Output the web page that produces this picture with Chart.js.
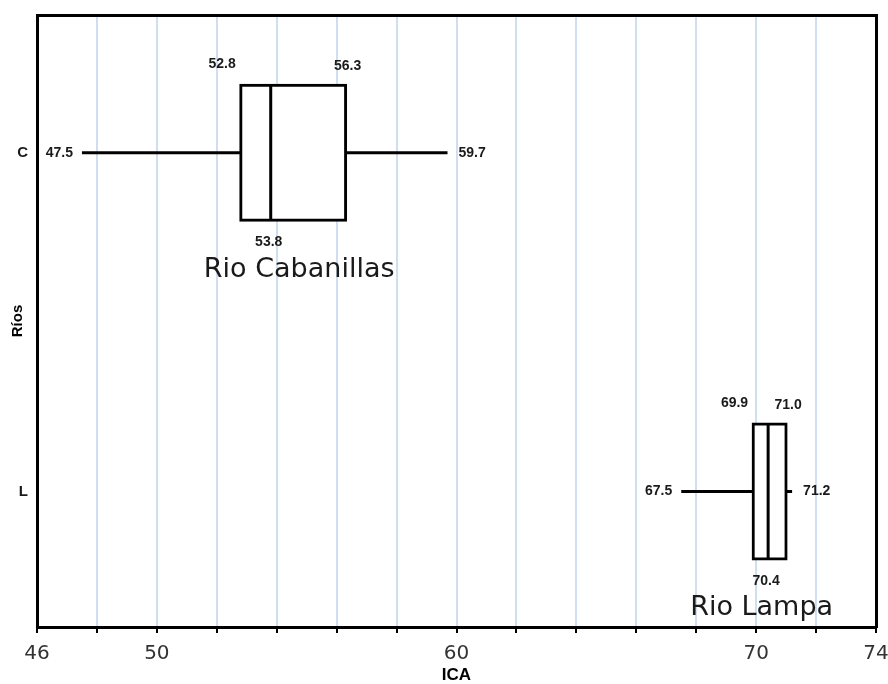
<!DOCTYPE html>
<html><head><meta charset="utf-8">
<script src="https://cdn.jsdelivr.net/npm/chart.js@4.4.1/dist/chart.umd.min.js"></script>
<style>html,body{margin:0;padding:0;background:#fff}#wrap{width:888px;height:684px;position:relative}</style>
</head><body><div id="wrap"><canvas id="c"></canvas></div>
<script>
// ---- data ----
const categories = ['C', 'L'];
const riverNames = ['Rio Cabanillas', 'Rio Lampa'];
const minValues = [47.5, 67.5];
const q1Values = [52.8, 69.9];
const medianValues = [53.8, 70.4];
const q3Values = [56.3, 71.0];
const maxValues = [59.7, 71.2];
const xTickLabels = [46, 50, 60, 70, 74];
const xAxisTitle = 'ICA';
const yAxisTitle = 'Ríos';

// ---- style constants ----
const BOX_HALF = 0.2;          // half box height in category units
const BOX_PX = 135;            // bar thickness in pixels
const NAME_SHIFT = [6, -8];
const LINE_W = 3;

const boxData = categories.map((c, i) => ({ x: [q1Values[i], q3Values[i]], y: i + 1 }));
const segDatasets = [];
categories.forEach((c, i) => {
  const yv = i + 1;
  const segs = [
    [{ x: minValues[i], y: yv }, { x: q1Values[i], y: yv }],
    [{ x: q3Values[i], y: yv }, { x: maxValues[i], y: yv }],
    [{ x: medianValues[i], y: yv - BOX_HALF }, { x: medianValues[i], y: yv + BOX_HALF }]
  ];
  segs.forEach(s => segDatasets.push({
    type: 'line', data: s, xAxisID: 'x', yAxisID: 'y',
    borderColor: '#000', borderWidth: LINE_W, pointRadius: 0, fill: false,
    borderCapStyle: 'butt', tension: 0, order: 0
  }));
});

const labelPlugin = {
  id: 'boxLabels',
  afterDatasetsDraw(chart) {
    const { ctx, scales: { x, y } } = chart;
    ctx.save();
    ctx.textBaseline = 'middle';
    categories.forEach((c, i) => {
      const yc = y.getPixelForValue(i + 1);
      const top = y.getPixelForValue(i + 1 - BOX_HALF);
      const bot = y.getPixelForValue(i + 1 + BOX_HALF);
      const pMin = x.getPixelForValue(minValues[i]);
      const pMax = x.getPixelForValue(maxValues[i]);
      const pQ1 = x.getPixelForValue(q1Values[i]);
      const pQ3 = x.getPixelForValue(q3Values[i]);
      const pMed = x.getPixelForValue(medianValues[i]);
      ctx.fillStyle = '#1a1a1a';
      ctx.font = 'bold 14px "Liberation Sans", Arial, sans-serif';
      ctx.textAlign = 'right';
      ctx.fillText(minValues[i].toFixed(1), pMin - 9, yc);
      ctx.fillText(q1Values[i].toFixed(1), pQ1 - 5, top - 21);
      ctx.textAlign = 'left';
      ctx.fillText(maxValues[i].toFixed(1), pMax + 11, yc);
      ctx.textAlign = 'center';
      ctx.fillText(q3Values[i].toFixed(1), pQ3 + 2, top - 19);
      ctx.fillText(medianValues[i].toFixed(1), pMed - 2, bot + 22);
      ctx.font = '27px "DejaVu Sans", Verdana, sans-serif';
      ctx.fillText(riverNames[i], (pQ1 + pQ3) / 2 + NAME_SHIFT[i], bot + 49);
    });
    ctx.restore();
  }
};

new Chart(document.getElementById('c'), {
  type: 'bar',
  data: {
    datasets: [
      {
        type: 'bar', indexAxis: 'y', data: boxData, xAxisID: 'x', yAxisID: 'y',
        backgroundColor: '#fff', borderColor: '#000', borderWidth: LINE_W,
        borderSkipped: false, barThickness: BOX_PX, inflateAmount: 1.5, order: 1
      },
      ...segDatasets
    ]
  },
  options: {
    responsive: true, maintainAspectRatio: false, animation: false,
    layout: { padding: { top: 15, right: 12, left: 0, bottom: 0 } },
    plugins: { legend: { display: false }, tooltip: { enabled: false } },
    scales: {
      x: {
        type: 'linear', position: 'bottom', min: 46, max: 74, offset: false, beginAtZero: false,
        afterFit: s => { s.height = 57; s.paddingLeft = 0; s.paddingRight = 0; },
        ticks: {
          stepSize: 2, autoSkip: false, maxRotation: 0, padding: 9, color: '#333',
          font: { family: '"DejaVu Sans", Verdana, sans-serif', size: 20 },
          callback: v => xTickLabels.includes(v) ? String(v) : ''
        },
        grid: { offset: false, color: 'rgba(170,196,226,0.55)', lineWidth: 2, tickColor: '#000', tickLength: 6, tickWidth: 2 },
        border: { color: '#000', width: 3 },
        title: { display: true, text: xAxisTitle, color: '#000', padding: { top: 0, bottom: 0 },
          font: { family: '"Liberation Sans", Arial, sans-serif', size: 17, weight: 'bold', lineHeight: 1 } }
      },
      y: {
        type: 'linear', position: 'left', reverse: true, min: 0.593, max: 2.4, offset: false, beginAtZero: false,
        afterFit: s => { s.width = 37; s.paddingTop = 0; s.paddingBottom = 0; },
        afterBuildTicks: s => { s.ticks = categories.map((c, i) => ({ value: i + 1 })); },
        ticks: {
          autoSkip: false, padding: 9, color: '#1a1a1a',
          font: { family: '"Liberation Sans", Arial, sans-serif', size: 15, weight: 'bold' },
          callback: v => categories[v - 1] ?? ''
        },
        grid: { display: false, drawTicks: false, offset: false },
        border: { color: '#000', width: 3 },
        title: { display: true, text: yAxisTitle, color: '#000', padding: { top: 10.5, bottom: 0 },
          font: { family: '"Liberation Sans", Arial, sans-serif', size: 15, weight: 'bold', lineHeight: 1 } }
      },
      x2: {
        type: 'linear', position: 'top', min: 46, max: 74, offset: false,
        afterFit: s => { s.height = 0; s.paddingLeft = 0; s.paddingRight = 0; },
        ticks: { display: false }, grid: { display: false, drawTicks: false },
        border: { color: '#000', width: 3 }
      },
      y2: {
        type: 'linear', position: 'right', min: 0.593, max: 2.4, offset: false,
        afterFit: s => { s.width = 0; s.paddingTop = 0; s.paddingBottom = 0; },
        ticks: { display: false }, grid: { display: false, drawTicks: false },
        border: { color: '#000', width: 3 }
      }
    }
  },
  plugins: [labelPlugin]
});
</script></body></html>
